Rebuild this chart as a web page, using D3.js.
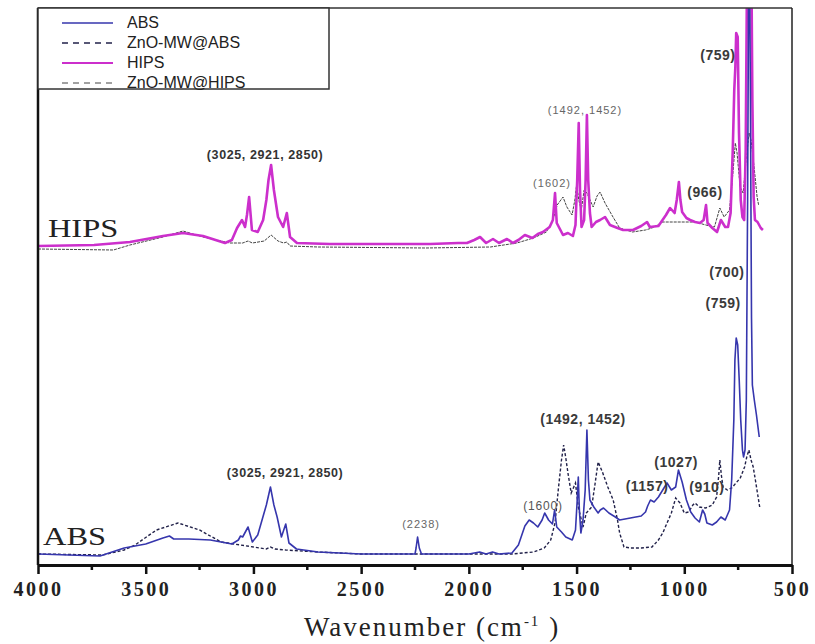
<!DOCTYPE html>
<html>
<head>
<meta charset="utf-8">
<script src="https://cdn.jsdelivr.net/npm/d3@7"></script>
<style>
  body { margin: 0; background: #fff; }
  svg { display: block; }
</style>
</head>
<body>
<svg id="drawing_region"></svg>
<script>
// spectra: [wavenumber (cm-1), absorbance (a.u., stacked)]
var abs = [
  [4000,11],[3712,9],[3600,17],[3500,21],[3420,27],[3390,29],[3370,26],[3300,26],[3200,25],
  [3100,21],[3070,25],[3060,29],[3050,28],[3025,38],[3005,23],[2980,30],[2960,45],[2940,60],
  [2921,78],[2905,60],[2890,48],[2870,28],[2850,41],[2835,22],[2800,16],[2700,13],[2500,11],
  [2250,11],[2245,17],[2238,28],[2230,17],[2220,11],[2000,11],[1950,13],[1920,11],[1890,13],
  [1860,11],[1800,12],[1770,20],[1740,39],[1720,45],[1700,42],[1680,38],[1660,45],[1648,52],
  [1630,45],[1612,41],[1602,55],[1592,38],[1570,33],[1550,28],[1520,25],[1505,35],[1497,65],
  [1492,88],[1487,55],[1480,32],[1470,45],[1460,75],[1452,135],[1445,85],[1438,65],[1420,58],
  [1400,52],[1390,55],[1375,57],[1350,52],[1320,48],[1300,45],[1250,47],[1200,49],[1180,53],
  [1170,59],[1157,65],[1140,63],[1120,68],[1100,75],[1080,82],[1060,75],[1040,78],[1027,95],
  [1010,83],[990,65],[970,53],[950,47],[930,43],[915,55],[905,51],[895,42],[870,40],[850,43],
  [830,48],[810,45],[790,55],[780,85],[770,145],[765,205],[759,227],[752,220],[745,185],
  [738,145],[730,115],[725,108],[718,115],[712,165],[706,365],[701,600],[697,600],[693,465],
  [688,248],[684,180],[675,165],[665,150],[655,133],[652,128]
];
var znoAbs = [
  [4000,11],[3700,10],[3600,15],[3550,20],[3450,35],[3350,42],[3250,35],[3150,23],[3000,18],
  [2940,16],[2921,18],[2900,16],[2850,15],[2700,13],[2500,11],[2000,11],[1800,11],[1700,13],
  [1650,17],[1620,25],[1600,42],[1585,75],[1570,105],[1560,120],[1550,107],[1540,92],
  [1525,72],[1505,82],[1492,58],[1470,38],[1455,52],[1430,58],[1415,80],[1400,103],[1380,93],
  [1355,78],[1330,65],[1310,45],[1300,32],[1280,18],[1250,17],[1200,17],[1150,18],[1120,25],
  [1100,32],[1080,42],[1060,52],[1040,67],[1020,62],[1000,52],[980,53],[960,60],[950,62],
  [930,58],[900,57],[870,60],[850,68],[840,90],[835,105],[828,90],[820,78],[800,75],[780,77],
  [760,82],[740,87],[720,98],[710,108],[700,115],[690,105],[680,98],[670,85],[650,58]
];
var hips = [
  [4000,319],[3740,320],[3573,323],[3420,329],[3327,332],[3234,329],[3132,322],[3100,325],
  [3076,337],[3053,345],[3039,338],[3030,350],[3020,368],[3007,335],[2980,333],[2955,345],
  [2940,365],[2930,385],[2918,400],[2905,375],[2886,348],[2862,338],[2845,352],[2830,328],
  [2798,322],[2645,321],[2180,321],[2050,322],[2009,322],[1975,325],[1948,328],[1920,322],
  [1888,326],[1860,322],[1823,326],[1795,322],[1770,325],[1740,330],[1705,327],[1680,331],
  [1656,333],[1625,338],[1610,345],[1600,372],[1592,342],[1575,335],[1563,330],[1540,332],
  [1517,329],[1505,340],[1497,385],[1490,442],[1484,375],[1477,338],[1465,345],[1458,385],
  [1452,450],[1446,385],[1438,352],[1430,338],[1410,343],[1391,345],[1368,348],[1345,340],
  [1310,337],[1284,335],[1238,335],[1200,339],[1173,343],[1160,338],[1120,339],[1085,350],
  [1066,357],[1045,352],[1035,365],[1025,383],[1018,365],[1010,353],[990,347],[973,345],
  [950,343],[927,342],[910,345],[899,360],[892,342],[870,337],[848,333],[830,345],[810,338],
  [797,338],[785,352],[775,415],[768,475],[763,498],[759,532],[752,528],[746,432],[738,365],
  [730,348],[722,345],[715,415],[710,555],[704,600],[694,600],[688,580],[684,465],[678,368],
  [672,345],[660,343],[645,337],[635,335]
];
var znoHips = [
  [4000,316],[3650,315],[3573,320],[3420,328],[3327,334],[3234,328],[3109,322],[3050,322],
  [3025,324],[3005,322],[2950,324],[2918,330],[2886,324],[2860,322],[2845,323],[2830,319],
  [2700,318],[2200,317],[1900,318],[1777,322],[1700,327],[1670,330],[1640,333],[1610,345],
  [1590,360],[1563,368],[1545,358],[1521,350],[1508,365],[1499,382],[1490,365],[1478,355],
  [1465,375],[1452,372],[1423,358],[1405,369],[1391,373],[1368,362],[1331,348],[1300,337],
  [1240,333],[1180,335],[1150,337],[1100,343],[1000,343],[950,343],[900,340],[860,338],
  [835,357],[815,348],[790,355],[775,390],[763,422],[755,412],[741,378],[727,372],[713,405],
  [699,432],[690,425],[676,398],[662,368],[655,360]
];

var seriesNames = ['ABS', 'ZnO-MW@ABS', 'HIPS', 'ZnO-MW@HIPS'];
var xTicks = [4000, 3500, 3000, 2500, 2000, 1500, 1000, 500];
var xMinorTicks = [3750, 3250, 2750, 2250, 1750, 1250, 750];

// peak labels: [text, wavenumber, height, style]
var peakLabels = [
  ['(3025, 2921, 2850)', 2946, 406, 'b'],
  ['(1602)', 1614, 378, 'l'],
  ['(1492, 1452)', 1461, 451, 'l'],
  ['(759)', 844, 505, 'm'],
  ['(966)', 904, 368, 'm'],
  ['(3025, 2921, 2850)', 2853, 88, 'b'],
  ['(2238)', 2222, 37, 'l'],
  ['(1600)', 1656, 55, 'l2'],
  ['(1492, 1452)', 1470, 141, 'm'],
  ['(1157)', 1173, 74, 'm'],
  ['(1027)', 1038, 98, 'm'],
  ['(910)', 895, 73, 'm'],
  ['(700)', 802, 288, 'm'],
  ['(759)', 820, 257, 'm']
];
var sampleLabels = [['HIPS', 3954, 328], ['ABS', 3977, 20]];

var width = 815;
var height = 644;
var margin = {top: 8, right: 23, bottom: 79, left: 38};
const inner_width = width - margin.left - margin.right;
const inner_height = height - margin.top - margin.bottom;

var svg = d3.select('#drawing_region')
    .attr('width', width)
    .attr('height', height);
var chart = svg.append('g')
    .attr('transform', `translate(${margin.left}, ${margin.top})`);

const xscale = d3.scaleLinear()
      .domain([4000, 500])
      .range([0, inner_width]);
const yscale = d3.scaleLinear()
      .domain([0, 557])
      .range([inner_height, 0]);

chart.append('clipPath').attr('id', 'clip')
    .append('rect')
    .attr('width', inner_width)
    .attr('height', inner_height);

const line = d3.line()
      .x( d => xscale(d[0]) )
      .y( d => yscale(d[1]) );

var plot = chart.append('g').attr('clip-path', 'url(#clip)');

plot.append('path')
    .attr('d', line(znoHips))
    .attr('fill', 'none')
    .attr('stroke', '#444')
    .attr('stroke-width', 1)
    .attr('stroke-dasharray', '3,1');
plot.append('path')
    .attr('d', line(hips))
    .attr('fill', 'none')
    .attr('stroke', '#cc2fcc')
    .attr('stroke-width', 2.6)
    .attr('stroke-linejoin', 'round');
plot.append('path')
    .attr('d', line(znoAbs))
    .attr('fill', 'none')
    .attr('stroke', '#22224a')
    .attr('stroke-width', 1.4)
    .attr('stroke-dasharray', '3,2');
plot.append('path')
    .attr('d', line(abs))
    .attr('fill', 'none')
    .attr('stroke', '#3636ad')
    .attr('stroke-width', 1.6)
    .attr('stroke-linejoin', 'round');

// frame
chart.append('line').attr('x1', 0).attr('x2', inner_width).attr('y1', 0).attr('y2', 0)
    .attr('stroke', '#333').attr('stroke-width', 1.5);
chart.append('line').attr('x1', inner_width).attr('x2', inner_width).attr('y1', 0).attr('y2', inner_height)
    .attr('stroke', '#222').attr('stroke-width', 1.5);
chart.append('line').attr('x1', 0).attr('x2', 0).attr('y1', 0).attr('y2', inner_height)
    .attr('stroke', '#111').attr('stroke-width', 2.5);

// axes
const xaxis = d3.axisBottom( xscale )
      .tickValues(xTicks)
      .tickFormat(d3.format('d'))
      .tickSize(9)
      .tickSizeOuter(0)
      .tickPadding(8);
const xaxis_group = chart.append('g')
      .attr('transform', `translate(0, ${inner_height})`)
      .call( xaxis );
xaxis_group.select('.domain').attr('stroke', '#111').attr('stroke-width', 3);
xaxis_group.selectAll('.tick line').attr('stroke', '#111').attr('stroke-width', 2.5);
xaxis_group.selectAll('.tick text')
    .attr('font-family', '"Liberation Serif", "Times New Roman", serif')
    .attr('font-size', 20)
    .attr('font-weight', 'bold')
    .attr('fill', '#222')
    .attr('letter-spacing', 2.5);

chart.append('g')
    .attr('transform', `translate(0, ${inner_height})`)
    .selectAll('line')
    .data(xMinorTicks)
    .join('line')
    .attr('x1', d => xscale(d)).attr('x2', d => xscale(d))
    .attr('y1', 0).attr('y2', 5)
    .attr('stroke', '#111').attr('stroke-width', 2.5);

var title = svg.append('text')
    .attr('x', margin.left + inner_width / 2 + 17)
    .attr('y', 636)
    .attr('text-anchor', 'middle')
    .attr('font-family', '"Liberation Serif", "Times New Roman", serif')
    .attr('font-size', 27)
    .attr('letter-spacing', 2)
    .attr('fill', '#222');
title.append('tspan').text('Wavenumber (cm');
title.append('tspan').attr('dy', -10).attr('font-size', 15).text('-1');
title.append('tspan').attr('dy', 10).text(' )');

// sample names
chart.selectAll('.sample')
    .data(sampleLabels)
    .join('text')
    .attr('class', 'sample')
    .attr('transform', d => `translate(${xscale(d[1])}, ${yscale(d[2])}) scale(1.3, 1)`)
    .attr('font-family', '"Liberation Serif", "Times New Roman", serif')
    .attr('font-size', 25)
    .attr('fill', '#222')
    .text(d => d[0]);

// peak annotations
var labelStyle = {
  b:  {size: 12.5, weight: 'bold',   fill: '#333', ls: 0.6},
  l:  {size: 11,   weight: 'normal', fill: '#666', ls: 1},
  l2: {size: 12,   weight: 'normal', fill: '#555', ls: 0.8},
  m:  {size: 14,   weight: 'bold',   fill: '#3a3a3a', ls: 0.5}
};
chart.selectAll('.peak')
    .data(peakLabels)
    .join('text')
    .attr('class', 'peak')
    .attr('x', d => xscale(d[1]))
    .attr('y', d => yscale(d[2]))
    .attr('text-anchor', 'middle')
    .attr('font-family', '"Liberation Sans", Arial, sans-serif')
    .attr('font-size', d => labelStyle[d[3]].size)
    .attr('font-weight', d => labelStyle[d[3]].weight)
    .attr('letter-spacing', d => labelStyle[d[3]].ls)
    .attr('fill', d => labelStyle[d[3]].fill)
    .text(d => d[0]);

// legend
var legend = chart.append('g');
legend.append('rect')
    .attr('x', 0).attr('y', 0)
    .attr('width', 291).attr('height', 81)
    .attr('fill', '#fff')
    .attr('stroke', '#333')
    .attr('stroke-width', 1.5);
var legendStyle = [
  {stroke: '#3636ad', dash: null, w: 1.6},
  {stroke: '#22224a', dash: '6,5', w: 1.4},
  {stroke: '#cc2fcc', dash: null, w: 2.2},
  {stroke: '#444', dash: '6,5', w: 1}
];
var rows = legend.selectAll('g')
    .data(seriesNames)
    .join('g')
    .attr('transform', (d, i) => `translate(0, ${15 + i * 20})`);
rows.append('line')
    .attr('x1', 24).attr('x2', 75)
    .attr('stroke', (d, i) => legendStyle[i].stroke)
    .attr('stroke-width', (d, i) => legendStyle[i].w)
    .attr('stroke-dasharray', (d, i) => legendStyle[i].dash);
rows.append('text')
    .attr('x', 89)
    .attr('y', 5)
    .attr('font-family', '"Liberation Sans", Arial, sans-serif')
    .attr('font-size', 16)
    .attr('fill', '#222')
    .text(d => d);
</script>
</body>
</html>
